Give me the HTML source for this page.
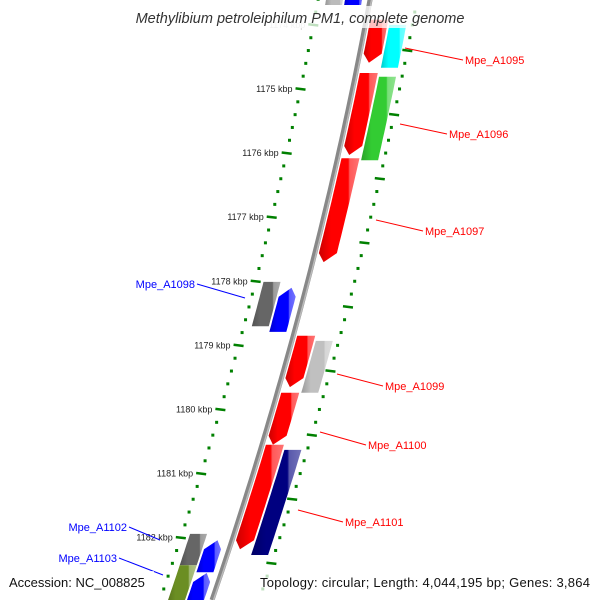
<!DOCTYPE html>
<html><head><meta charset="utf-8"><style>
html,body{margin:0;padding:0;background:#fff;width:600px;height:600px;overflow:hidden}
svg{display:block;overflow:hidden}
text{font-family:"Liberation Sans","DejaVu Sans",sans-serif}
</style></head><body>
<svg id="chart" width="600" height="600" viewBox="0 0 600 600" xmlns="http://www.w3.org/2000/svg">
<defs><clipPath id="frame"><rect x="0" y="0" width="600" height="600"/></clipPath></defs>
<g clip-path="url(#frame)">
<g id="rings"></g>
<g id="backbone"></g>
<g id="genes"></g>
<g id="labels"></g>
</g>
<rect x="118" y="6" width="364" height="22" fill="#fff" fill-opacity="0.75"/>
<text x="300" y="23" text-anchor="middle" font-size="14.5" font-style="italic" fill="#333">Methylibium petroleiphilum PM1, complete genome</text>
<rect x="4" y="571" width="150" height="21" fill="#fff" fill-opacity="0.75"/>
<text x="9" y="587" font-size="13" fill="#111">Accession: NC_008825</text>
<rect x="256" y="571" width="340" height="21" fill="#fff" fill-opacity="0.75"/>
<text x="260" y="587" font-size="13" fill="#111" textLength="330">Topology: circular; Length: 4,044,195 bp; Genes: 3,864</text>
</svg>
<script>
const geneNames=["g0a","g0b","Mpe_A1095r","Mpe_A1095","Mpe_A1096r","Mpe_A1096","Mpe_A1097","Mpe_A1098g","Mpe_A1098","Mpe_A1099r","Mpe_A1099","Mpe_A1100","Mpe_A1101r","Mpe_A1101","Mpe_A1102","Mpe_A1103","Mpe_A1102b","Mpe_A1103b"];
const geneStart=[1173.40,1173.40,1173.92,1174.00,1174.75,1174.81,1176.08,1178.01,1178.10,1178.85,1178.93,1179.74,1180.55,1180.63,1181.94,1182.43,1182.04,1182.55];
const geneEnd=[1173.69,1173.69,1174.59,1174.67,1176.03,1176.11,1177.70,1178.70,1178.79,1179.65,1179.74,1180.55,1182.18,1182.27,1182.43,1183.05,1182.54,1183.05];
const geneLane=[-2,-1,1,2,1,2,1,-2,-1,1,2,1,1,2,-2,-2,-1,-1];
const geneStrand=[0,0,-1,0,-1,0,-1,0,1,-1,0,-1,-1,0,0,0,1,1];
const geneColor=["#bbbbbb","#0000ff","#ff0000","#00ffff","#ff0000","#33cc33","#ff0000","#666666","#0000ff","#ff0000","#c0c0c0","#ff0000","#ff0000","#000080","#666666","#6b8e23","#0000ff","#0000ff"];
const tickKbp=[1174,1175,1176,1177,1178,1179,1180,1181,1182];
const labelText=["Mpe_A1095","Mpe_A1096","Mpe_A1097","Mpe_A1098","Mpe_A1099","Mpe_A1100","Mpe_A1101","Mpe_A1102","Mpe_A1103"];
const labelGeneIdx=[3,5,6,8,10,11,13,14,15];
const labelColor=["red","red","red","blue","red","red","red","blue","blue"];

const NS="http://www.w3.org/2000/svg";
function mk(tag,attrs,parent){const e=document.createElementNS(NS,tag);for(const k in attrs)e.setAttribute(k,attrs[k]);parent.appendChild(e);return e;}
function yOf(k){return 89+(k-1175)*64.1;}
function xOf(y){return 370-0.1847*y-0.000131*y*y;}
const laneOff={"1":[4,22],"2":[24,41],"-1":[-25,-8],"-2":[-44,-27]};

const bb=document.getElementById('backbone');
let pts=[];for(let y=-10;y<=600;y+=10)pts.push(xOf(y).toFixed(1)+","+y);
const bl=mk('polyline',{points:pts.join(" "),fill:"none",stroke:"#888",'stroke-width':5},bb);


const bl2=mk('polyline',{points:pts.join(" "),fill:"none",stroke:"#bbb",'stroke-width':1.5,transform:"translate(1.5,0)"},bb);



const rg=document.getElementById('rings');
for(let k=1173.4;k<=1183.05;k+=0.2){
  const y=yOf(k);const kr=Math.round(k*10)/10;
  const isMaj=Math.abs(kr-Math.round(kr))<0.01;
  const xl=xOf(y)-52;
  if(isMaj){const d=mk('line',{x1:xl-5,y1:y-0.6,x2:xl+5,y2:y+0.6,stroke:"#008000",'stroke-width':2.5},rg);
    
    }
  else{const d=mk('rect',{x:xl-1.5,y:y-1.5,width:3,height:3,fill:"#008000"},rg);
    
    }
  const yr=y+25.6;if(yr>598)continue;const xr=xOf(yr)+47;
  if(isMaj){const d=mk('line',{x1:xr-5,y1:yr-0.6,x2:xr+5,y2:yr+0.6,stroke:"#008000",'stroke-width':2.5},rg);
    
    }
  else{const d=mk('rect',{x:xr-1.5,y:yr-1.5,width:3,height:3,fill:"#008000"},rg);
    
    }
}
tickKbp.forEach(k=>{const y=yOf(k);const x=xOf(y)-60;
  const t=mk('text',{x:x,y:y+3,'text-anchor':'end','font-size':9,fill:k===1174?"#ccc":"#222"},rg);
  t.textContent=k+" kbp";
  
  
});

const gg=document.getElementById('genes');
function lighten(hex,f){const n=parseInt(hex.slice(1),16);let r=n>>16,g=(n>>8)&255,b=n&255;r=Math.round(r+(255-r)*f);g=Math.round(g+(255-g)*f);b=Math.round(b+(255-b)*f);return "rgb("+r+","+g+","+b+")";}
function darken(hex,f){const n=parseInt(hex.slice(1),16);return "rgb("+Math.round((n>>16)*f)+","+Math.round(((n>>8)&255)*f)+","+Math.round((n&255)*f)+")";}
const defs=document.querySelector('defs');
geneNames.forEach((nm,i)=>{
  const y1=yOf(geneStart[i]),y2=yOf(geneEnd[i]);
  const [o1,o2]=laneOff[String(geneLane[i])];
  const gid='grad'+i;
  const lg=mk('linearGradient',{id:gid,x1:0,y1:0,x2:1,y2:0},defs);
  const c=geneColor[i];
  mk('stop',{offset:"0",'stop-color':darken(c,0.8)},lg);
  mk('stop',{offset:"0.3",'stop-color':c},lg);
  mk('stop',{offset:"0.72",'stop-color':c},lg);
  mk('stop',{offset:"0.76",'stop-color':lighten(c,0.35)},lg);
  mk('stop',{offset:"1",'stop-color':lighten(c,0.45)},lg);
  const L=[],R=[];const ah=9;const steps=12;
  for(let s=0;s<=steps;s++){
    const y=y1+(y2-y1)*s/steps;const x=xOf(y);
    L.push([x+o1,y]);R.push([x+o2,y]);
  }
  let poly=[];
  if(geneStrand[i]===-1){
    const yb=y2-ah;
    const left=L.filter(p=>p[1]<=yb),right=R.filter(p=>p[1]<=yb);
    const xb=xOf(yb);left.push([xb+o1,yb]);right.push([xb+o2,yb]);
    const xt=xOf(y2)+(o1+o2)/2-2;
    poly=left.concat([[xt,y2]]).concat(right.reverse());
  }else if(geneStrand[i]===1){
    const yt=y1+ah;
    const left=L.filter(p=>p[1]>=yt),right=R.filter(p=>p[1]>=yt);
    const xt0=xOf(yt);left.unshift([xt0+o1,yt]);right.unshift([xt0+o2,yt]);
    const xt=xOf(y1)+(o1+o2)/2+2;
    poly=[[xt,y1]].concat(right).concat(left.reverse());
  }else{
    poly=L.concat(R.reverse());
  }
  const p=mk('polygon',{points:poly.map(q=>q[0].toFixed(1)+","+q[1].toFixed(1)).join(" "),fill:"url(#"+gid+")"},gg);
  
  
});

const lbg=document.getElementById('labels');
const labelPos=[[465,64],[449,138],[425,235],[195,288],[385,390],[368,449],[345,526],[127,531],[117,562]];
const lineStart=[[405,48],[400,124],[376,220],[245,298],[337,374],[320,432],[298,510],[160,540],[163,575]];
labelText.forEach((t,j)=>{
  const right=labelColor[j]==="red";
  const [lx,ly]=labelPos[j];const [sx,sy]=lineStart[j];
  const ln=mk('line',{x1:sx,y1:sy,x2:right?lx-2:lx+2,y2:ly-4,stroke:right?"#ff0000":"#0000ff",'stroke-width':1},lbg);
  
  
  const tx=mk('text',{x:lx,y:ly,'text-anchor':right?'start':'end','font-size':11,fill:right?"#ff0000":"#0000ff"},lbg);
  tx.textContent=t;
  
  
});
</script>
</body></html>
